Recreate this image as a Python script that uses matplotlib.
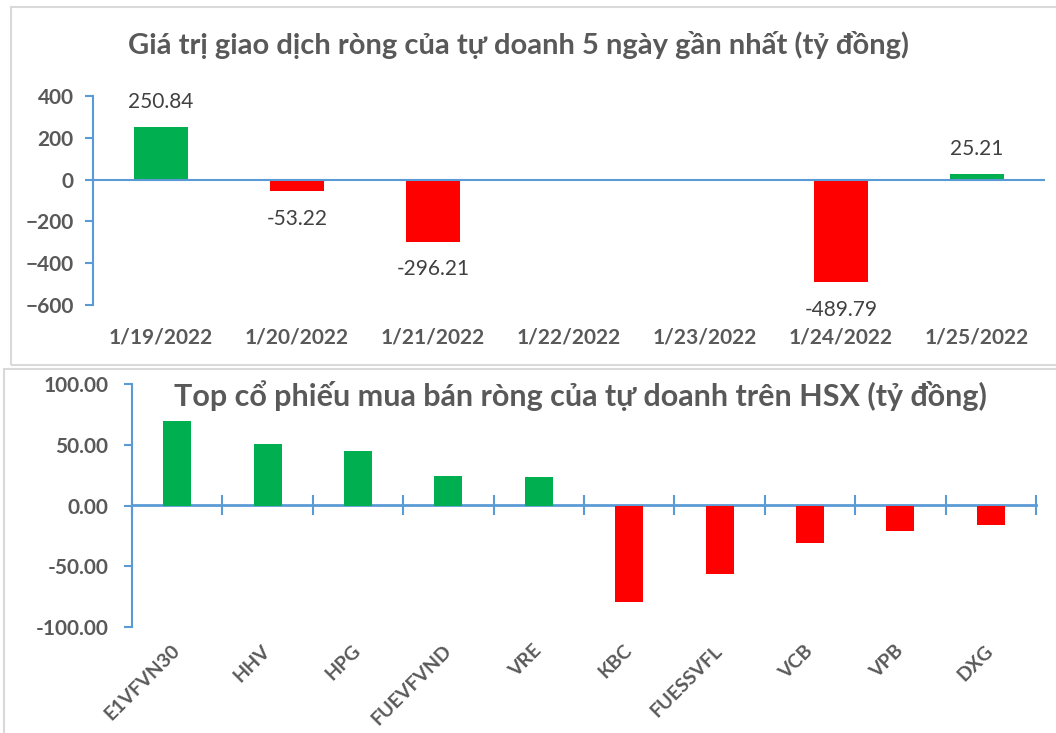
import numpy as np
import matplotlib
matplotlib.use("Agg")
import matplotlib.pyplot as plt
from matplotlib.patches import Rectangle

# data: net proprietary trading value, last 5 sessions (ty dong)
dates = ['1/19/2022', '1/20/2022', '1/21/2022', '1/22/2022',
         '1/23/2022', '1/24/2022', '1/25/2022']
net_value = [250.84, -53.22, -296.21, 0, 0, -489.79, 25.21]

# data: top stocks bought / sold on HSX (ty dong)
tickers = ['E1VFVN30', 'HHV', 'HPG', 'FUEVFVND', 'VRE',
           'KBC', 'FUESSVFL', 'VCB', 'VPB', 'DXG']
stock_value = [69.4, 50.4, 45.2, 24.5, 23.4, -79.1, -56.0, -31.1, -20.7, -16.3]

top_title = 'Giá trị giao dịch ròng của tự doanh 5 ngày gần nhất (tỷ đồng)'
bot_title = 'Top cổ phiếu mua bán ròng của tự doanh trên HSX (tỷ đồng)'

GREEN = '#00B050'
RED = '#FF0000'
BLUE = '#5B9BD5'
GREY = '#595959'
W, H = 1056, 733

plt.rcParams['font.family'] = ['Lato', 'DejaVu Sans']


def px_box(x0, y0, x1, y1):
    # pixel box (top-left origin) -> figure fraction rect
    return [x0 / W, 1 - y1 / H, (x1 - x0) / W, (y1 - y0) / H]


fig = plt.figure(figsize=(W / 100, H / 100), dpi=100)

# panel frames
fig.patches.append(Rectangle((11 / W, 1 - 365 / H), 1.2, (365 - 7) / H,
                             transform=fig.transFigure, fill=False,
                             edgecolor='#D9D9D9', lw=1.5))
fig.patches.append(Rectangle((4 / W, -0.1), 1.2, 0.1 + (733 - 369) / H,
                             transform=fig.transFigure, fill=False,
                             edgecolor='#D9D9D9', lw=1.5))

# ---------------- top chart ----------------
ax1 = fig.add_axes(px_box(93, 96, 1045, 305))
x1 = np.arange(len(dates))
cols1 = [GREEN if v >= 0 else RED for v in net_value]
ax1.bar(x1, net_value, width=0.4, color=cols1, zorder=2)
ax1.axhline(0, color=BLUE, lw=1.5, zorder=3)
ax1.set_xlim(-0.5, len(dates) - 0.5)
ax1.set_ylim(-600, 400)
ax1.set_yticks(np.arange(-600, 401, 200))
ax1.set_xticks(x1)
ax1.set_xticklabels(dates, fontsize=15, fontweight='bold', color=GREY)
ax1.tick_params(axis='x', length=0, pad=16)
ax1.tick_params(axis='y', length=6, color=BLUE, width=1.5, pad=8,
                labelsize=15, labelcolor=GREY)
for lab in ax1.get_yticklabels():
    lab.set_fontweight('bold')
for s in ['top', 'right', 'bottom']:
    ax1.spines[s].set_visible(False)
ax1.spines['left'].set_color(BLUE)
ax1.spines['left'].set_linewidth(1.5)
for xi, v in zip(x1, net_value):
    if v == 0:
        continue
    off = 18 if v > 0 else -20
    ax1.annotate(f'{v:.2f}', (xi, v), xytext=(0, off), textcoords='offset points',
                 ha='center', va='center', fontsize=15, color='#404040')
fig.text(519 / W, 1 - 45 / H, top_title, ha='center', va='center',
         fontsize=21, fontweight='bold', color=GREY)

# ---------------- bottom chart ----------------
ax2 = fig.add_axes(px_box(132, 384, 1036, 627))
x2 = np.arange(len(tickers))
cols2 = [GREEN if v >= 0 else RED for v in stock_value]
ax2.bar(x2, stock_value, width=0.31, color=cols2, zorder=2)
ax2.set_xlim(-0.5, len(tickers) - 0.5)
ax2.set_ylim(-100, 100)
ax2.set_yticks(np.arange(-100, 101, 50))
ax2.set_yticklabels([f'{v:.2f}' for v in np.arange(-100, 101, 50)])
ax2.set_xticks(x2)
ax2.set_xticklabels(tickers, fontsize=14, fontweight='bold', color=GREY)
for lab in ax2.get_xticklabels():
    lab.set_rotation(45)
    lab.set_rotation_mode('anchor')
    lab.set_ha('right')
    lab.set_va('center')
ax2.tick_params(axis='x', length=0, pad=15)
ax2.tick_params(axis='y', length=6, color=BLUE, width=1.5, pad=11,
                labelsize=15, labelcolor=GREY)
for lab in ax2.get_yticklabels():
    lab.set_fontweight('bold')
for s in ['top', 'right', 'bottom']:
    ax2.spines[s].set_visible(False)
ax2.spines['left'].set_color(BLUE)
ax2.spines['left'].set_linewidth(1.5)
# zero line with category boundary ticks
zero_ax = ax2.secondary_xaxis(0.5)
zero_ax.set_xticks(np.arange(-0.5, len(tickers), 1.0))
zero_ax.tick_params(axis='x', direction='inout', length=15, width=1.5,
                    color=BLUE, labelbottom=False, labeltop=False)
zero_ax.spines['bottom'].set_color(BLUE)
zero_ax.spines['bottom'].set_linewidth(2)
zero_ax.spines['top'].set_color(BLUE)
zero_ax.spines['top'].set_linewidth(2)
fig.text(580 / W, 1 - 396 / H, bot_title, ha='center', va='center',
         fontsize=22, fontweight='bold', color=GREY)

fig.savefig('out.png', dpi=100)
